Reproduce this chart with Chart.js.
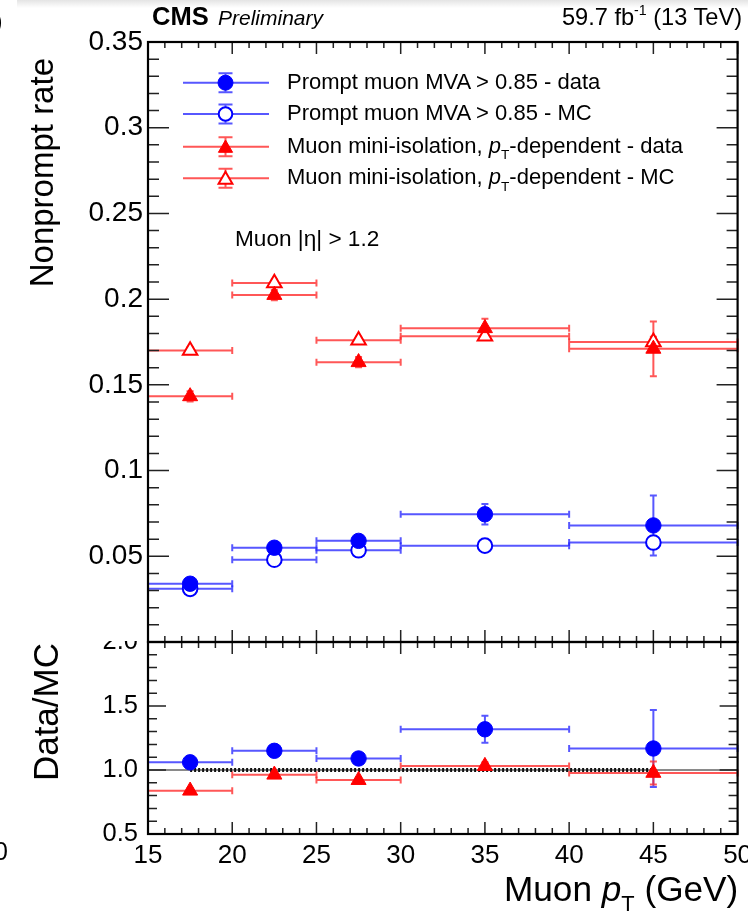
<!DOCTYPE html>
<html><head><meta charset="utf-8">
<script src="https://cdn.jsdelivr.net/npm/chart.js@4/dist/chart.umd.min.js"></script>
<style>
body{margin:0;background:#fff;}
#wrap{position:relative;width:748px;height:915px;overflow:hidden;font-family:"Liberation Sans",Arial,Helvetica,sans-serif;color:#000;background:#fff;}
#c{position:absolute;left:0;top:0;}
.t{position:absolute;white-space:nowrap;line-height:1;}
.rot{position:absolute;white-space:nowrap;line-height:1;transform:rotate(-90deg);transform-origin:0 0;text-align:right;width:300px;}
.sub{font-size:0.62em;position:relative;top:0.45em;font-style:normal;}
</style></head><body>
<div id="wrap">
<div style="position:absolute;left:17px;top:0;width:731px;height:8px;background:linear-gradient(#e4e4e4,#fff);"></div>
<canvas id="c" width="748" height="915"></canvas>
<div class="t" style="left:-6px;top:8px;font-size:26px;">)</div>
<div class="t" style="left:-6px;top:839px;font-size:25px;">0</div>
<div class="t" style="left:152px;top:3.5px;font-size:25.5px;font-weight:bold;">CMS</div>
<div class="t" style="left:218px;top:7.2px;font-size:21px;font-style:italic;">Preliminary</div>
<div class="t" style="right:6px;top:6px;font-size:23.6px;">59.7 fb<sup style="font-size:0.6em;vertical-align:0.7em;line-height:0;">-1</sup> (13 TeV)</div>
<div class="t" style="left:287px;top:70.7px;font-size:22px;">Prompt muon MVA &gt; 0.85 - data</div>
<div class="t" style="left:287px;top:102px;font-size:22px;">Prompt muon MVA &gt; 0.85 - MC</div>
<div class="t" style="left:287px;top:134.7px;font-size:22px;">Muon mini-isolation, <i>p</i><span class="sub">T</span>-dependent - data</div>
<div class="t" style="left:287px;top:166.4px;font-size:22px;">Muon mini-isolation, <i>p</i><span class="sub">T</span>-dependent - MC</div>
<div class="t" style="left:235px;top:227.6px;font-size:22.6px;">Muon |η| &gt; 1.2</div>
<div class="t" style="right:9.7px;top:871px;font-size:35.2px;">Muon <i>p</i><span class="sub">T</span> (GeV)</div>
<div class="rot" style="left:24.7px;top:358px;font-size:33px;">Nonprompt rate</div>
<div class="rot" style="left:27.7px;top:943px;font-size:35px;">Data/MC</div>
</div>
<script>
// ---------------- data ----------------
const binLow = [15, 20, 25, 30, 40];
const binHigh = [20, 25, 30, 40, 50];
const binCenter = [17.5, 22.5, 27.5, 35, 45];

const mvaData = [0.034, 0.055, 0.059, 0.0745, 0.068];
const mvaDataErr = [0.002, 0.002, 0.002, 0.006, 0.0175];
const mvaMC = [0.031, 0.048, 0.0535, 0.0562, 0.058];
const mvaMCErr = [0.001, 0.001, 0.001, 0.001, 0.0015];

const isoData = [0.1433, 0.2024, 0.1632, 0.183, 0.171];
const isoDataErr = [0.003, 0.003, 0.003, 0.0056, 0.016];
const isoMC = [0.170, 0.2094, 0.176, 0.1783, 0.175];
const isoMCErr = [0.002, 0.002, 0.002, 0.002, 0.003];

const ratioMva = [1.06, 1.15, 1.09, 1.318, 1.168];
const ratioMvaErr = [0.03, 0.03, 0.03, 0.105, 0.30];
const ratioIso = [0.838, 0.963, 0.921, 1.031, 0.977];
const ratioIsoErr = [0.02, 0.02, 0.02, 0.03, 0.09];
const ratioMC = [1, 1, 1, 1, 1];
const unityX = [15, 50];
const unityY = [1, 1];

const ptTicks = [15, 20, 25, 30, 35, 40, 45, 50];
const rateTicks = [0.05, 0.1, 0.15, 0.2, 0.25, 0.3, 0.35];
const ratioTicks = [0.5, 1.0, 1.5, 2.0];

const legendLabels = [
  'Prompt muon MVA > 0.85 - data',
  'Prompt muon MVA > 0.85 - MC',
  'Muon mini-isolation, pT-dependent - data',
  'Muon mini-isolation, pT-dependent - MC'
];

// ---------------- styles ----------------
const FONT = '"Liberation Sans", Arial, Helvetica, sans-serif';
const BLUE = '#0000ff', RED = '#ff0000';
const BLUE_BAR = 'rgba(40,40,255,0.78)', RED_BAR = 'rgba(255,40,40,0.78)';

function pts(xs, ys) { return xs.map((x, i) => ({x: x, y: ys[i]})); }

const datasets = [
  {label: legendLabels[0], data: pts(binCenter, mvaData), yAxisID: 'y', order: 1,
   pointStyle: 'circle', pointRadius: 7.7, pointBorderWidth: 1, borderColor: BLUE, backgroundColor: BLUE,
   err: {lo: binLow, hi: binHigh, e: mvaDataErr, color: BLUE_BAR}},
  {label: legendLabels[1], data: pts(binCenter, mvaMC), yAxisID: 'y', order: 3,
   pointStyle: 'circle', pointRadius: 7.3, pointBorderWidth: 2, borderColor: BLUE, backgroundColor: '#fff',
   err: {lo: binLow, hi: binHigh, e: mvaMCErr, color: BLUE_BAR}},
  {label: legendLabels[2], data: pts(binCenter, isoData), yAxisID: 'y', order: 2,
   pointStyle: 'triangle', pointRadius: 8.7, pointBorderWidth: 1, borderColor: RED, backgroundColor: RED,
   err: {lo: binLow, hi: binHigh, e: isoDataErr, color: RED_BAR}},
  {label: legendLabels[3], data: pts(binCenter, isoMC), yAxisID: 'y', order: 4,
   pointStyle: 'triangle', pointRadius: 8.4, pointBorderWidth: 2, borderColor: RED, backgroundColor: '#fff',
   err: {lo: binLow, hi: binHigh, e: isoMCErr, color: RED_BAR}},
  {label: 'ratio mva', data: pts(binCenter, ratioMva), yAxisID: 'yr', order: 1,
   pointStyle: 'circle', pointRadius: 7.7, pointBorderWidth: 1, borderColor: BLUE, backgroundColor: BLUE,
   err: {lo: binLow, hi: binHigh, e: ratioMvaErr, color: BLUE_BAR}},
  {label: 'ratio iso', data: pts(binCenter, ratioIso), yAxisID: 'yr', order: 2,
   pointStyle: 'triangle', pointRadius: 8.7, pointBorderWidth: 1, borderColor: RED, backgroundColor: RED,
   err: {lo: binLow, hi: binHigh, e: ratioIsoErr, color: RED_BAR}},
  {label: 'MC ratio', data: pts(binCenter, ratioMC), yAxisID: 'yr', order: 8, showLine: true,
   pointRadius: 0, borderColor: '#111', borderWidth: 4, borderDash: [2, 2], backgroundColor: '#000'},
  {label: 'unity', data: pts(unityX, unityY), yAxisID: 'yr', order: 9, showLine: true,
   pointRadius: 0, borderColor: '#8a8a8a', borderWidth: 2, backgroundColor: '#8a8a8a'}
];

const errorBarPlugin = {
  id: 'errbars',
  beforeDatasetsDraw(chart) {
    const ctx = chart.ctx, xs = chart.scales.x;
    chart.data.datasets.forEach(ds => {
      if (!ds.err) return;
      const ys = chart.scales[ds.yAxisID];
      ctx.save();
      ctx.strokeStyle = ds.err.color;
      ctx.lineWidth = 2;
      ds.data.forEach((p, i) => {
        const x0 = xs.getPixelForValue(ds.err.lo[i]);
        const x1 = xs.getPixelForValue(ds.err.hi[i]);
        const xc = xs.getPixelForValue(p.x);
        const y = ys.getPixelForValue(p.y);
        const yu = ys.getPixelForValue(p.y + ds.err.e[i]);
        const yd = ys.getPixelForValue(p.y - ds.err.e[i]);
        ctx.beginPath();
        ctx.moveTo(x0, y); ctx.lineTo(x1, y);
        ctx.moveTo(x0, y - 3.5); ctx.lineTo(x0, y + 3.5);
        ctx.moveTo(x1, y - 3.5); ctx.lineTo(x1, y + 3.5);
        ctx.moveTo(xc, yu); ctx.lineTo(xc, yd);
        ctx.moveTo(xc - 3.5, yu); ctx.lineTo(xc + 3.5, yu);
        ctx.moveTo(xc - 3.5, yd); ctx.lineTo(xc + 3.5, yd);
        ctx.stroke();
      });
      ctx.restore();
    });
  }
};

function marker(ctx, style, x, y, r, filled, color) {
  ctx.save();
  ctx.beginPath();
  if (style === 'circle') {
    ctx.arc(x, y, r, 0, Math.PI * 2);
  } else {
    ctx.moveTo(x, y - r);
    ctx.lineTo(x + r * 0.866, y + r * 0.5);
    ctx.lineTo(x - r * 0.866, y + r * 0.5);
    ctx.closePath();
  }
  ctx.fillStyle = filled ? color : '#fff';
  ctx.fill();
  ctx.strokeStyle = color;
  ctx.lineWidth = filled ? 1 : 2;
  ctx.stroke();
  ctx.restore();
}

const framePlugin = {
  id: 'frame',
  afterDraw(chart) {
    const ctx = chart.ctx, xs = chart.scales.x, y = chart.scales.y, yr = chart.scales.yr;
    const L = xs.left, R = xs.right;
    ctx.save();
    // the top pad hides the upper half of the ratio pad's "2.0" label
    ctx.fillStyle = '#fff';
    ctx.fillRect(90, yr.top - 14, L - 91, 13);
    // ticks
    ctx.strokeStyle = '#222';
    ctx.lineWidth = 1.5;
    ctx.beginPath();
    const panels = [[y.top, y.bottom], [yr.top, yr.bottom]];
    for (let v = 15; v <= 50; v++) {
      const px = xs.getPixelForValue(v);
      const len = (v % 5 === 0) ? 12 : 6;
      panels.forEach(([t, b]) => {
        ctx.moveTo(px, t); ctx.lineTo(px, t + len);
        ctx.moveTo(px, b); ctx.lineTo(px, b - len);
      });
    }
    for (let k = 0; k <= 35; k++) {
      const py = y.getPixelForValue(k / 100);
      const len = (k % 5 === 0) ? 21 : 11;
      ctx.moveTo(L, py); ctx.lineTo(L + len, py);
      ctx.moveTo(R, py); ctx.lineTo(R - len, py);
    }
    for (let k = 5; k <= 20; k++) {
      const py = yr.getPixelForValue(k / 10);
      const len = (k % 5 === 0) ? 18 : 9;
      ctx.moveTo(L, py); ctx.lineTo(L + len, py);
      ctx.moveTo(R, py); ctx.lineTo(R - len, py);
    }
    ctx.stroke();
    // frames
    ctx.strokeStyle = '#000';
    ctx.lineWidth = 2.2;
    ctx.strokeRect(L, y.top, R - L, y.bottom - y.top);
    ctx.strokeRect(L, yr.top, R - L, yr.bottom - yr.top);
    ctx.restore();

    // legend symbols
    const rows = [82.7, 114, 146.7, 178.3];
    const lx0 = 183, lx1 = 269, mx = 225.5;
    const legendSym = [
      {style: 'circle', filled: true, color: BLUE, bar: BLUE_BAR, r: 7.5},
      {style: 'circle', filled: false, color: BLUE, bar: BLUE_BAR, r: 6.8},
      {style: 'triangle', filled: true, color: RED, bar: RED_BAR, r: 8.2},
      {style: 'triangle', filled: false, color: RED, bar: RED_BAR, r: 8.0}
    ];
    legendSym.forEach((s, i) => {
      const ry = rows[i];
      ctx.save();
      ctx.strokeStyle = s.bar;
      ctx.lineWidth = 2;
      ctx.beginPath();
      ctx.moveTo(lx0, ry); ctx.lineTo(lx1, ry);
      ctx.moveTo(mx, ry - 9.5); ctx.lineTo(mx, ry + 9.5);
      ctx.moveTo(mx - 7, ry - 9.5); ctx.lineTo(mx + 7, ry - 9.5);
      ctx.moveTo(mx - 7, ry + 9.5); ctx.lineTo(mx + 7, ry + 9.5);
      ctx.stroke();
      ctx.restore();
      marker(ctx, s.style, mx, ry + (s.style === 'triangle' ? 1.5 : 0), s.r, s.filled, s.color);
    });
  }
};

new Chart(document.getElementById('c'), {
  type: 'scatter',
  data: {datasets: datasets},
  options: {
    responsive: false,
    animation: false,
    events: [],
    layout: {padding: {top: 42, right: 9, left: 0, bottom: 0}},
    plugins: {legend: {display: false}, tooltip: {enabled: false}},
    scales: {
      x: {
        type: 'linear', min: 15, max: 50, position: 'bottom',
        grid: {display: false, drawTicks: false}, border: {display: false},
        afterBuildTicks: s => { s.ticks = ptTicks.map(v => ({value: v})); },
        ticks: {font: {family: FONT, size: 26}, color: '#000', padding: 6, maxRotation: 0, autoSkip: false,
                callback: v => String(v)},
        afterFit: s => { s.height = 81; s.paddingLeft = 0; s.paddingRight = 0; }
      },
      yr: {
        type: 'linear', position: 'left', stack: 'v', stackWeight: 192, min: 0.5, max: 2.0,
        grid: {display: false, drawTicks: false}, border: {display: false},
        afterBuildTicks: s => { s.ticks = ratioTicks.map(v => ({value: v})); },
        ticks: {font: {family: FONT, size: 25.5}, color: '#000', padding: 10,
                callback: v => Number(v).toFixed(1)},
        afterFit: s => { s.width = 148; s.paddingTop = 0; s.paddingBottom = 0; }
      },
      y: {
        type: 'linear', position: 'left', stack: 'v', stackWeight: 600, min: 0, max: 0.35,
        grid: {display: false, drawTicks: false}, border: {display: false},
        afterBuildTicks: s => { s.ticks = rateTicks.map(v => ({value: v})); },
        ticks: {font: {family: FONT, size: 28}, color: '#000', padding: 5,
                callback: v => String(+Number(v).toFixed(2))},
        afterFit: s => { s.width = 148; s.paddingTop = 0; s.paddingBottom = 0; }
      }
    }
  },
  plugins: [errorBarPlugin, framePlugin]
});
</script>
</body></html>
